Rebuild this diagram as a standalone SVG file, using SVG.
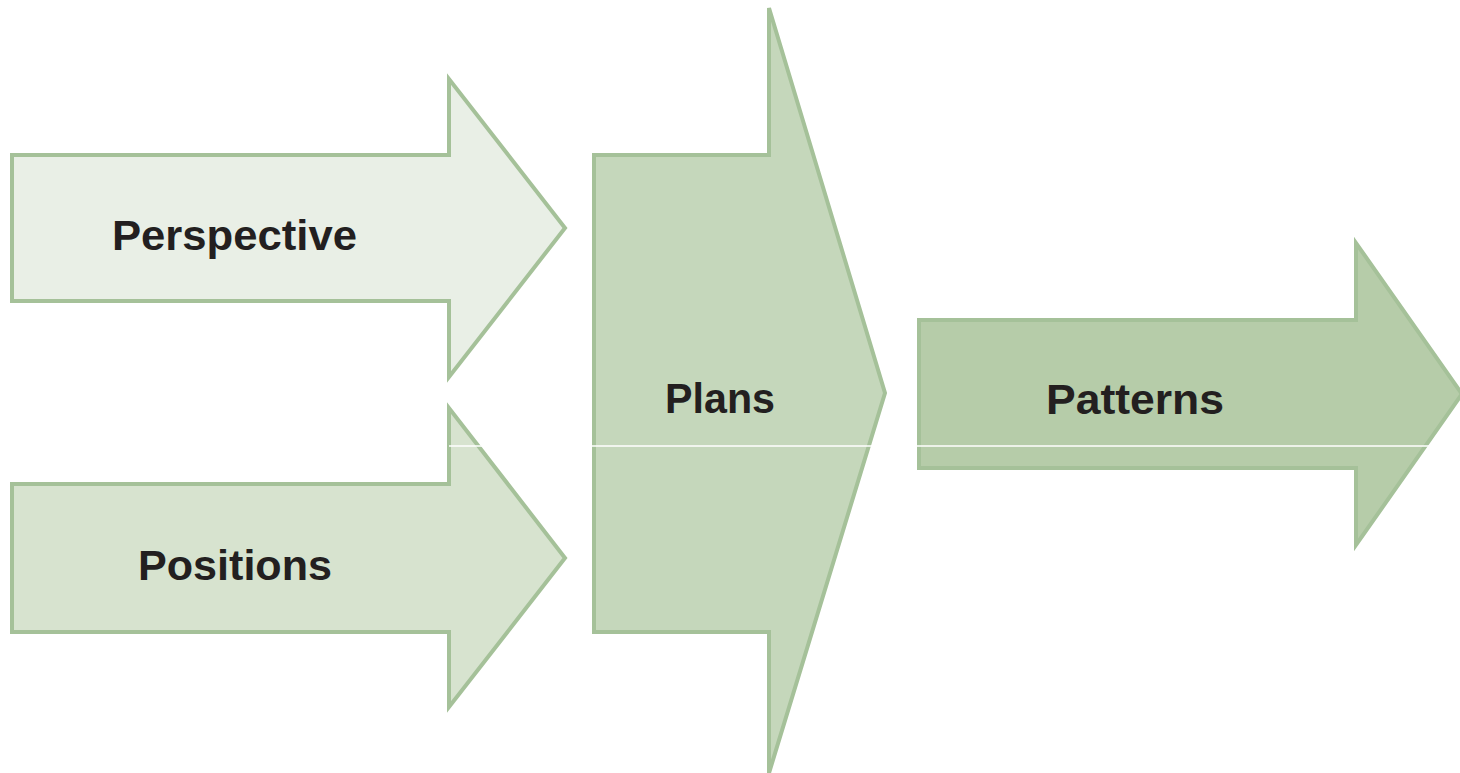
<svg xmlns="http://www.w3.org/2000/svg" width="1460" height="773" viewBox="0 0 1460 773">
  <style>
    .arrow { stroke: #a5c199; stroke-width: 4; stroke-linejoin: miter; }
    .label { font-family: "Liberation Sans", Arial, sans-serif; font-weight: bold; font-size: 42px; fill: #231f20; }
  </style>
  <rect width="1460" height="773" fill="#ffffff"/>

  <g id="perspective">
    <path class="arrow" fill="#e9efe6" d="M12,155 H449 V79 L565,228 L449,377 V301 H12 Z"/>
    <text class="label" x="112" y="250" textLength="245" lengthAdjust="spacingAndGlyphs">Perspective</text>
  </g>

  <g id="positions">
    <path class="arrow" fill="#d7e3cf" d="M12,484 H449 V408 L565,558 L449,707 V632 H12 Z"/>
    <text class="label" x="138" y="580" textLength="194" lengthAdjust="spacingAndGlyphs">Positions</text>
  </g>

  <g id="plans">
    <path class="arrow" fill="#c5d7bb" d="M594,155 H769 V8 L885,393 L769,773 V632 H594 Z"/>
    <text class="label" x="665" y="413" textLength="110" lengthAdjust="spacingAndGlyphs">Plans</text>
  </g>

  <g id="patterns">
    <path class="arrow" fill="#b6cca9" d="M919,320 H1356 V243 L1462,394 L1356,545 V468 H919 Z"/>
    <text class="label" x="1046" y="414" textLength="178" lengthAdjust="spacingAndGlyphs">Patterns</text>
  </g>

  <g id="connectors">
    <!-- thin white rule crossing the shapes -->
    <line x1="449" y1="446" x2="1460" y2="446" stroke="#ffffff" stroke-width="1.5"/>
  </g>
</svg>
